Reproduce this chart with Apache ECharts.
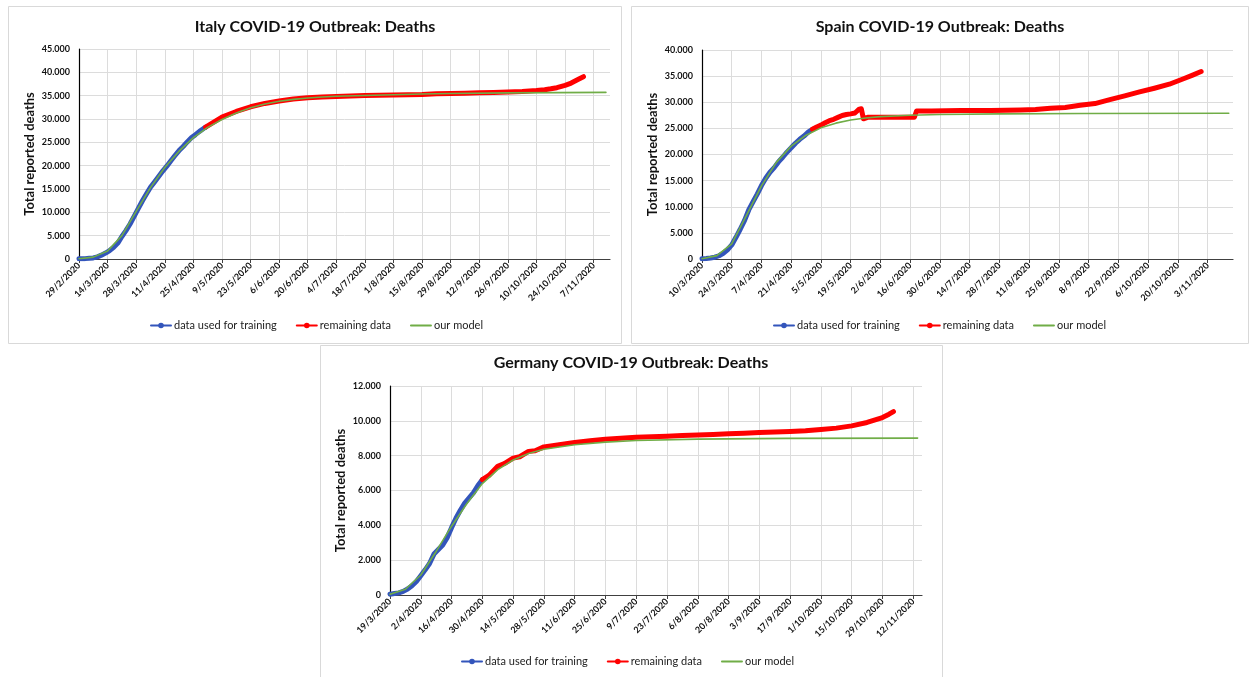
<!DOCTYPE html>
<html><head><meta charset="utf-8">
<script src="https://cdn.jsdelivr.net/npm/echarts@6/dist/echarts.min.js"></script>
<style>html,body{margin:0;padding:0;background:#fff}#c{width:1250px;height:677px}</style>
</head><body><div id="c"></div>
<script>
// ---------- Italy (day 0 = 29/2/2020) ----------
const italyTicks = ['29/2/2020','14/3/2020','28/3/2020','11/4/2020','25/4/2020','9/5/2020','23/5/2020','6/6/2020','20/6/2020','4/7/2020','18/7/2020','1/8/2020','15/8/2020','29/8/2020','12/9/2020','26/9/2020','10/10/2020','24/10/2020','7/11/2020'];
const italyTrainDays = [0,3,5,7,9,11,13,15,17,19,21,23,25,27,29,31,33,35,37,39,41,43,45,47,49,51,53,55,57,59,61,62];
const italyTrainVals = [29,79,148,233,463,827,1266,1809,2503,3405,4825,6077,7503,9134,10779,12428,13915,15362,16523,17669,18849,19899,21067,22170,23227,24114,25085,25969,26644,27359,27967,28236];
const italyRestDays = [62,66,70,77,84,91,98,105,112,119,126,133,140,147,154,161,168,175,182,189,196,203,210,217,224,228,231,234,238,241,245,247];
const italyRestVals = [28236,29315,30395,31610,32616,33340,33846,34301,34561,34716,34833,34945,35042,35107,35146,35205,35234,35430,35472,35534,35603,35692,35801,35918,36111,36289,36474,36705,37210,37700,38618,39059];
const italyModelDays = [0,7,14,21,28,35,42,49,56,63,70,77,84,91,98,105,112,119,126,140,154,168,182,210,258];
const italyModelVals = [50,400,1700,5000,10200,15300,19600,23100,26000,28200,29900,31300,32400,33200,33800,34200,34500,34700,34880,35050,35200,35350,35450,35600,35700];

// ---------- Spain (day 0 = 10/3/2020) ----------
const spainTicks = ['10/3/2020','24/3/2020','7/4/2020','21/4/2020','5/5/2020','19/5/2020','2/6/2020','16/6/2020','30/6/2020','14/7/2020','28/7/2020','11/8/2020','25/8/2020','8/9/2020','22/9/2020','6/10/2020','20/10/2020','3/11/2020'];
const spainTrainDays = [0,2,4,6,8,10,12,14,16,18,20,22,24,26,28,30,32,34,36,38,40,42,44,46,48,50,52];
const spainTrainVals = [36,84,196,342,623,1093,1772,2696,4145,5690,7340,9387,10935,12418,14045,15447,16606,17489,18579,19478,20453,21282,22157,22902,23521,24275,24824];
const spainRestDays = [52,54,56,58,60,62,64,66,68,70,72,74,75,76,78,80,86,92,98,100,101,108,115,122,129,136,143,150,157,164,171,178,185,192,199,206,213,220,227,231,235];
const spainRestVals = [24824,25264,25613,26070,26478,26744,27104,27459,27650,27778,27940,28678,28752,26834,27117,27121,27133,27136,27136,27136,28315,28341,28385,28403,28420,28432,28445,28503,28605,28838,29011,29418,29747,30495,31232,31973,32688,33453,34552,35198,35878];
const spainModelDays = [0,7,14,21,28,35,42,49,56,63,70,77,84,98,112,140,180,248];
const spainModelVals = [60,650,2900,8400,14000,18500,21600,23700,25100,26000,26600,27000,27250,27500,27650,27780,27850,27900];

// ---------- Germany (day 0 = 19/3/2020) ----------
const germanyTicks = ['19/3/2020','2/4/2020','16/4/2020','30/4/2020','14/5/2020','28/5/2020','11/6/2020','25/6/2020','9/7/2020','23/7/2020','6/8/2020','20/8/2020','3/9/2020','17/9/2020','1/10/2020','15/10/2020','29/10/2020','12/11/2020'];
const germanyTrainDays = [0,2,4,6,8,10,12,14,16,18,20,22,24,26,28,30,32,34,36,38,40,42];
const germanyTrainVals = [44,84,123,206,342,533,775,1107,1444,1810,2349,2607,2871,3294,3868,4404,4862,5279,5575,5877,6288,6623];
const germanyRestDays = [42,45,49,52,56,59,63,66,70,77,84,91,98,105,112,119,126,133,140,147,154,161,168,175,182,189,196,203,210,217,224,227,229];
const germanyRestVals = [6623,6866,7392,7549,7861,7938,8247,8283,8504,8635,8763,8851,8940,9004,9063,9087,9118,9152,9183,9216,9254,9285,9325,9356,9388,9428,9500,9581,9710,9905,10190,10380,10530];
const germanyModelDays = [0,7,14,21,28,35,42,49,56,63,70,84,98,112,140,180,240];
const germanyModelVals = [40,330,1150,2500,3950,5250,6400,7200,7750,8120,8370,8630,8780,8870,8950,8990,9010];

const NAMES = ['data used for training','remaining data','our model'];
const COLORS = ['#3355bb','#ff0000','#70ad47'];
const FONT = 'Lato';

function pairs(d, v) { return d.map((x, i) => [x, v[i]]); }
function thousands(v) {
  if (v === 0) return '0';
  const t = Math.floor(v / 1000), r = v % 1000;
  return t + '.' + String(r).padStart(3, '0');
}

const panels = [
  { title: 'Italy COVID-19 Outbreak: Deaths', tx: 315, ty: 27,
    grid: { left: 79, top: 49, width: 531, height: 210 },
    xMax: 260, yMax: 45000, yInt: 5000, ticks: italyTicks,
    data: [pairs(italyTrainDays, italyTrainVals), pairs(italyRestDays, italyRestVals), pairs(italyModelDays, italyModelVals)],
    legend: { left: 150, top: 320 } },
  { title: 'Spain COVID-19 Outbreak: Deaths', tx: 940, ty: 27,
    grid: { left: 702, top: 50, width: 531, height: 209 },
    xMax: 250, yMax: 40000, yInt: 5000, ticks: spainTicks,
    data: [pairs(spainTrainDays, spainTrainVals), pairs(spainRestDays, spainRestVals), pairs(spainModelDays, spainModelVals)],
    legend: { left: 773, top: 320 } },
  { title: 'Germany COVID-19 Outbreak: Deaths', tx: 631, ty: 363,
    grid: { left: 390, top: 386, width: 532, height: 209 },
    xMax: 242, yMax: 12000, yInt: 2000, ticks: germanyTicks,
    data: [pairs(germanyTrainDays, germanyTrainVals), pairs(germanyRestDays, germanyRestVals), pairs(germanyModelDays, germanyModelVals)],
    legend: { left: 461, top: 656 } }
];

const option = {
  backgroundColor: '#fff',
  animation: false,
  grid: [], xAxis: [], yAxis: [], series: [], legend: [],
  graphic: [
    { type: 'rect', shape: { x: 8.5, y: 6.5, width: 613, height: 337 }, style: { fill: 'none', stroke: '#d9d9d9', lineWidth: 1 }, silent: true },
    { type: 'rect', shape: { x: 631.5, y: 6.5, width: 617, height: 337 }, style: { fill: 'none', stroke: '#d9d9d9', lineWidth: 1 }, silent: true },
    { type: 'rect', shape: { x: 320.5, y: 345.5, width: 622, height: 340 }, style: { fill: 'none', stroke: '#d9d9d9', lineWidth: 1 }, silent: true }
  ]
};

panels.forEach((p, i) => {
  option.grid.push(Object.assign({}, p.grid));
  const ticks = p.ticks;
  option.xAxis.push({
    type: 'value', gridIndex: i, min: 0, max: p.xMax, interval: 14,
    axisLine: { show: true, lineStyle: { color: '#404040', width: 1.2 } },
    axisTick: { show: true, length: 4, lineStyle: { color: '#404040' } },
    axisLabel: {
      rotate: 45, margin: 5, fontFamily: FONT, fontWeight: 'bold', fontSize: 9, color: '#111',
      showMaxLabel: false,
      formatter: v => (v % 14 === 0 && ticks[v / 14]) ? ticks[v / 14] : ''
    },
    splitLine: { show: true, showMaxLine: false, lineStyle: { color: '#dcdcdc', width: 1 } }
  });
  option.yAxis.push({
    type: 'value', gridIndex: i, min: 0, max: p.yMax, interval: p.yInt,
    name: 'Total reported deaths', nameLocation: 'middle', nameGap: 43, nameRotate: 90,
    nameTextStyle: { fontFamily: FONT, fontWeight: 'bold', fontSize: 13, color: '#111' },
    axisLine: { show: true, lineStyle: { color: '#000', width: 1.2 } },
    axisTick: { show: false },
    axisLabel: { margin: 9, fontFamily: FONT, fontWeight: 'bold', fontSize: 9, color: '#111', formatter: thousands },
    splitLine: { show: true, lineStyle: { color: '#dcdcdc', width: 1 } }
  });
  NAMES.forEach((n, k) => {
    option.series.push({
      name: n, type: 'line', xAxisIndex: i, yAxisIndex: i,
      data: p.data[k],
      symbol: 'circle', showSymbol: false,
      z: 2 + k,
      color: COLORS[k],
      lineStyle: { color: COLORS[k], width: k === 2 ? 1.6 : 5, join: 'round', cap: 'round' },
      itemStyle: { color: COLORS[k] }
    });
  });
  option.legend.push({
    left: p.legend.left, top: p.legend.top, padding: 0,
    orient: 'horizontal', itemWidth: 20, itemHeight: 7, itemGap: 19,
    selectedMode: false,
    lineStyle: { width: 2 },
    textStyle: { fontFamily: FONT, fontSize: 11, color: '#222', padding: [0, 0, 0, -2] },
    data: [
      { name: NAMES[0] },
      { name: NAMES[1] },
      { name: NAMES[2], itemStyle: { opacity: 0 } }
    ]
  });
  option.graphic.push({
    type: 'text', x: p.tx, y: p.ty, silent: true,
    style: { text: p.title, font: 'bold 16px ' + FONT, fill: '#111', align: 'center', verticalAlign: 'middle', textAlign: 'center', textVerticalAlign: 'middle' }
  });
});

const chart = echarts.init(document.getElementById('c'), null, { renderer: 'canvas' });
chart.setOption(option);
</script></body></html>
